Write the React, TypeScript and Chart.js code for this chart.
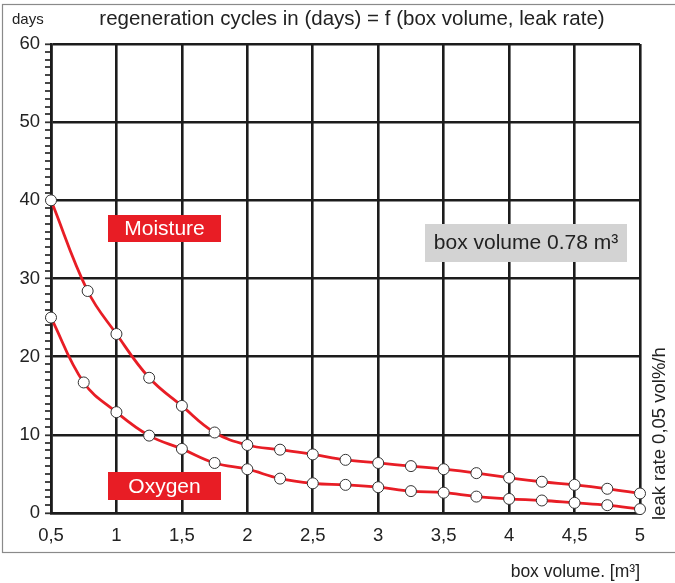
import React, { useEffect, useRef } from "react";
import { Chart, registerables } from "chart.js";

Chart.register(...registerables);

const moistureX = [0.5, 0.78, 1, 1.25, 1.5, 1.75, 2, 2.25, 2.5, 2.75, 3, 3.25, 3.5, 3.75, 4, 4.25, 4.5, 4.75, 5];
const moistureY = [40, 28.4, 22.9, 17.3, 13.7, 10.3, 8.7, 8.1, 7.5, 6.8, 6.4, 6.0, 5.6, 5.1, 4.5, 4.0, 3.6, 3.1, 2.5];
const oxygenX = [0.5, 0.75, 1, 1.25, 1.5, 1.75, 2, 2.25, 2.5, 2.75, 3, 3.25, 3.5, 3.75, 4, 4.25, 4.5, 4.75, 5];
const oxygenY = [25.0, 16.7, 12.9, 9.9, 8.2, 6.4, 5.6, 4.4, 3.8, 3.6, 3.3, 2.8, 2.6, 2.1, 1.8, 1.6, 1.3, 1.0, 0.5];

const titleText = "regeneration cycles in (days) = f (box volume, leak rate)";
const yUnitText = "days";
const xAxisText = "box volume. [m³]";
const rightText = "leak rate 0,05 vol%/h";
const moistureLabel = "Moisture";
const oxygenLabel = "Oxygen";
const infoLabel = "box volume 0.78 m³";

const FONT = "'Liberation Sans', Arial, Helvetica, sans-serif";
const RED = "#e81d25";
const GRID = "#1c1c1c";

export default function App() {
  const ref = useRef<HTMLCanvasElement | null>(null);

  useEffect(() => {
    document.body.style.margin = "0";
    const canvas = ref.current;
    if (!canvas) return;

    const decor = {
      id: "decor",
      beforeDraw(chart: any) {
        const ctx = chart.ctx;
        ctx.save();
        ctx.fillStyle = "#ffffff";
        ctx.fillRect(0, 0, chart.width, chart.height);
        ctx.strokeStyle = "#8a8a8a";
        ctx.lineWidth = 1.2;
        ctx.strokeRect(2.5, 4.5, 720, 548);
        ctx.restore();
      },
      afterDatasetsDraw(chart: any) {
        const ctx = chart.ctx;
        ctx.save();
        ctx.fillStyle = "#222";
        ctx.textBaseline = "middle";
        ctx.textAlign = "center";
        ctx.font = `20.5px ${FONT}`;
        ctx.fillText(titleText, 352, 19);
        ctx.textAlign = "left";
        ctx.font = `15px ${FONT}`;
        ctx.fillText(yUnitText, 12, 20);
        ctx.textAlign = "right";
        ctx.font = `17.5px ${FONT}`;
        ctx.fillText(xAxisText, 640, 572);
        ctx.save();
        ctx.translate(660, 520);
        ctx.rotate(-Math.PI / 2);
        ctx.textAlign = "left";
        ctx.font = `18.5px ${FONT}`;
        ctx.fillText(rightText, 0, 0);
        ctx.restore();
        ctx.textAlign = "center";
        ctx.font = `21px ${FONT}`;
        ctx.fillStyle = RED;
        ctx.fillRect(108, 215, 113, 27);
        ctx.fillRect(108, 472, 113, 28);
        ctx.fillStyle = "#ffffff";
        ctx.fillText(moistureLabel, 164.5, 229.5);
        ctx.fillText(oxygenLabel, 164.5, 487);
        ctx.fillStyle = "#d3d3d3";
        ctx.fillRect(425, 224, 202, 38);
        ctx.fillStyle = "#222";
        ctx.font = `21px ${FONT}`;
        ctx.fillText(infoLabel, 526, 243.5);
        ctx.restore();
      },
    };

    const common = {
      borderColor: RED,
      borderWidth: 2.8,
      tension: 0.4,
      pointRadius: 5.5,
      pointBackgroundColor: "#ffffff",
      pointBorderColor: "#333",
      pointBorderWidth: 1,
      clip: false,
    };

    const chart = new Chart(canvas, {
      type: "line",
      data: {
        datasets: [
          { label: "Moisture", data: moistureX.map((x, i) => ({ x, y: moistureY[i] })), ...common },
          { label: "Oxygen", data: oxygenX.map((x, i) => ({ x, y: oxygenY[i] })), ...common },
        ],
      },
      options: {
        responsive: false,
        animation: false,
        devicePixelRatio: 1,
        layout: { padding: { left: 0, top: 44, right: 35, bottom: 0 } },
        plugins: {
          legend: { display: false },
          tooltip: { enabled: false },
          title: { display: false },
        },
        scales: {
          x: {
            type: "linear",
            min: 0.5,
            max: 5,
            ticks: {
              stepSize: 0.5,
              autoSkip: false,
              maxRotation: 0,
              padding: 12,
              color: "#222",
              font: { family: FONT, size: 18.5 },
              callback: (v: any) => String(v).replace(".", ","),
            },
            grid: { color: GRID, lineWidth: 2.6, drawTicks: false },
            border: { display: true, color: GRID, width: 2.6 },
            afterFit: (s: any) => {
              s.height = 70;
            },
          },
          y: {
            min: 0,
            max: 60,
            ticks: {
              stepSize: 1,
              autoSkip: false,
              padding: 5,
              color: "#222",
              font: { family: FONT, size: 18.5 },
              callback: (v: any) => (Number(v) % 10 === 0 ? String(v) : ""),
            },
            grid: {
              color: (c: any) => (c.tick && c.tick.value % 10 === 0 ? GRID : "rgba(0,0,0,0)"),
              lineWidth: (c: any) => (c.tick && c.tick.value % 10 === 0 ? 2.6 : 0),
              drawTicks: true,
              tickLength: 6,
              tickColor: "#333",
              tickWidth: 1.8,
            },
            border: { display: true, color: GRID, width: 2.6 },
            afterFit: (s: any) => {
              s.width = 51;
            },
          },
        },
      },
      plugins: [decor],
    });

    return () => chart.destroy();
  }, []);

  return (
    <div style={{ width: 675, height: 583 }}>
      <canvas ref={ref} width={675} height={583} style={{ display: "block", width: 675, height: 583 }} />
    </div>
  );
}
